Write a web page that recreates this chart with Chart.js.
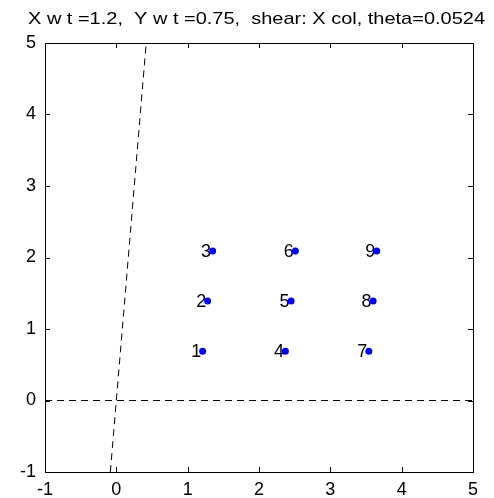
<!DOCTYPE html>
<html>
<head>
<meta charset="utf-8">
<script src="https://cdn.jsdelivr.net/npm/chart.js@4.4.0/dist/chart.umd.min.js"></script>
<style>
  html, body { margin: 0; padding: 0; background: #fff; }
  #wrap { width: 494px; height: 498px; position: relative; }
</style>
</head>
<body>
<div id="wrap"><canvas id="shearChart" width="494" height="498"></canvas></div>
<script>
// ---- data
var titleText = 'X w t =1.2,  Y w t =0.75,  shear: X col, theta=0.0524';

var pointLabels = ['1', '2', '3', '4', '5', '6', '7', '8', '9'];
var pointX = [1.21, 1.28, 1.35, 2.37, 2.45, 2.51, 3.54, 3.60, 3.65];
var pointY = [0.69, 1.39, 2.09, 0.69, 1.39, 2.09, 0.69, 1.39, 2.09];

// dashed reference axes
var hLineX = [-1, 5];
var hLineY = [0, 0];
var sLineX = [-0.084, 0.419];
var sLineY = [-1, 5];

var xTicks = [-1, 0, 1, 2, 3, 4, 5];
var yTicks = [-1, 0, 1, 2, 3, 4, 5];

var fontFamily = '"Liberation Sans", Arial, Helvetica, sans-serif';

function toXY(xs, ys){
    var out = [];
    for (var i = 0; i < xs.length; i++){
        out.push({x: xs[i], y: ys[i]});
    }
    return out;
}

// frame, inward ticks on all four sides, title
var framePlugin = {
    id: 'framePlugin',
    afterDraw: function(chart){
        var ctx = chart.ctx;
        var a = chart.chartArea;
        var sx = chart.scales.x;
        var sy = chart.scales.y;
        ctx.save();
        ctx.strokeStyle = '#000';
        ctx.lineWidth = 1;
        ctx.strokeRect(Math.round(a.left) + 0.5, Math.round(a.top) + 0.5,
                       Math.round(a.right - a.left), Math.round(a.bottom - a.top));
        ctx.beginPath();
        xTicks.forEach(function(v){
            var px = Math.round(sx.getPixelForValue(v)) + 0.5;
            ctx.moveTo(px, a.bottom); ctx.lineTo(px, a.bottom - 5);
            ctx.moveTo(px, a.top);    ctx.lineTo(px, a.top + 5);
        });
        yTicks.forEach(function(v){
            var py = Math.round(sy.getPixelForValue(v)) + 0.5;
            ctx.moveTo(a.left, py);  ctx.lineTo(a.left + 5, py);
            ctx.moveTo(a.right, py); ctx.lineTo(a.right - 5, py);
        });
        ctx.stroke();

        // title, stretched sideways a little like the original rendering
        ctx.fillStyle = '#000';
        ctx.font = '17px ' + fontFamily;
        ctx.textAlign = 'left';
        ctx.textBaseline = 'alphabetic';
        var w = ctx.measureText(titleText).width;
        var stretch = 457 / w;
        ctx.translate(28, 23.5);
        ctx.scale(stretch, 1);
        ctx.fillText(titleText, 0, 0);
        ctx.restore();
    }
};

// number next to each point, drawn under the dots
var labelPlugin = {
    id: 'labelPlugin',
    beforeDatasetsDraw: function(chart){
        var ctx = chart.ctx;
        var sx = chart.scales.x;
        var sy = chart.scales.y;
        ctx.save();
        ctx.fillStyle = '#000';
        ctx.font = '18px ' + fontFamily;
        ctx.textAlign = 'right';
        ctx.textBaseline = 'alphabetic';
        for (var i = 0; i < pointLabels.length; i++){
            var px = sx.getPixelForValue(pointX[i]);
            var py = sy.getPixelForValue(pointY[i]);
            ctx.fillText(pointLabels[i], px - 1.5, py + 5.5);
        }
        ctx.restore();
    }
};

var ctx = document.getElementById('shearChart').getContext('2d');
var myChart = new Chart(ctx, {
    type: 'scatter',
    data: {
        datasets: [{
            label: 'points',
            data: toXY(pointX, pointY),
            backgroundColor: '#0000ff',
            borderColor: '#0000ff',
            pointRadius: 3.5,
            pointBorderWidth: 0,
            showLine: false
        }, {
            label: 'x axis',
            data: toXY(hLineX, hLineY),
            showLine: true,
            borderColor: '#000',
            borderWidth: 1,
            borderDash: [7, 5],
            pointRadius: 0
        }, {
            label: 'sheared y axis',
            data: toXY(sLineX, sLineY),
            showLine: true,
            borderColor: '#000',
            borderWidth: 1,
            borderDash: [7, 5],
            pointRadius: 0
        }]
    },
    options: {
        responsive: false,
        animation: false,
        events: [],
        layout: {
            padding: { top: 43, right: 21, left: 0, bottom: 0 }
        },
        plugins: {
            legend: { display: false },
            tooltip: { enabled: false },
            title: { display: false }
        },
        scales: {
            x: {
                type: 'linear',
                min: -1,
                max: 5,
                border: { display: false },
                grid: { display: false, drawTicks: false },
                afterBuildTicks: function(scale){
                    scale.ticks = xTicks.map(function(v){ return {value: v}; });
                },
                afterFit: function(scale){ scale.height = 26; },
                ticks: {
                    color: '#000',
                    padding: 7,
                    maxRotation: 0,
                    font: { family: fontFamily, size: 18 }
                }
            },
            y: {
                type: 'linear',
                min: -1,
                max: 5,
                border: { display: false },
                grid: { display: false, drawTicks: false },
                afterBuildTicks: function(scale){
                    scale.ticks = yTicks.map(function(v){ return {value: v}; });
                },
                afterFit: function(scale){ scale.width = 45; },
                ticks: {
                    color: '#000',
                    padding: 9,
                    font: { family: fontFamily, size: 18 }
                }
            }
        }
    },
    plugins: [labelPlugin, framePlugin]
});
</script>
</body>
</html>
